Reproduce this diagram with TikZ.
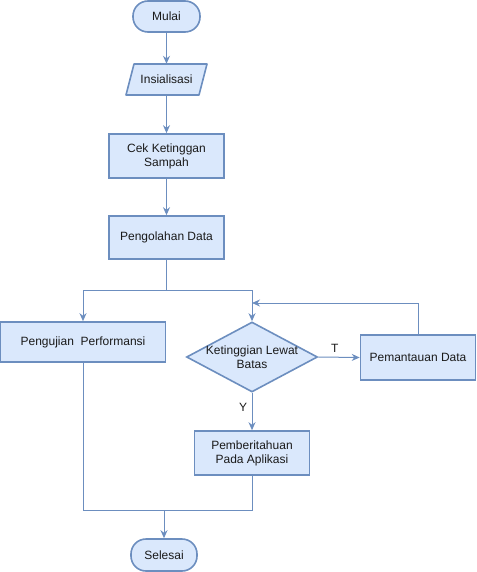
\documentclass[tikz,border=0pt]{standalone}
\usepackage{fontspec}
\setmainfont{Liberation Sans}
\usetikzlibrary{shapes.geometric,arrows.meta}
\definecolor{boxfill}{HTML}{DAE8FC}
\definecolor{boxline}{HTML}{6C8EBF}
\definecolor{txtcol}{HTML}{1A1A1A}
\tikzset{
  every node/.style={font=\fontsize{12pt}{14pt}\selectfont, text=txtcol, align=center},
  procbox/.style={draw=boxline, fill=boxfill, line width=1.6pt, rectangle, inner sep=0pt},
  termbox/.style={draw=boxline, fill=boxfill, line width=1.6pt, rectangle, rounded corners=15pt, inner sep=0pt},
  decbox/.style={draw=boxline, fill=boxfill, line width=1.6pt, diamond, inner sep=0pt},
  conn/.style={draw=boxline, line width=1pt},
  arr/.style={conn, -{Stealth[length=8pt,width=7pt]}},
  lbl/.style={font=\fontsize{12pt}{14pt}\selectfont}
}
\begin{document}
\begin{tikzpicture}[x=1pt,y=-1pt]
\useasboundingbox (0,0) rectangle (476,572);
% shapes
\node[termbox, minimum width=67pt, minimum height=31pt] (mulai) at (166.5,16.5) {Mulai};
\draw[draw=boxline, fill=boxfill, line width=1.6pt, line join=round] (134,64) -- (207,64) -- (199,95) -- (126,95) -- cycle;
\node[rectangle, minimum width=73pt, minimum height=31pt, inner sep=0pt] (init) at (166.5,79.5) {Insialisasi};
\node[procbox, minimum width=115pt, minimum height=44pt] (cek) at (166.5,156) {Cek Ketinggan\\Sampah};
\node[procbox, minimum width=115pt, minimum height=43pt] (olah) at (166.5,237.5) {Pengolahan Data};
\node[procbox, minimum width=165pt, minimum height=40pt] (uji) at (83,342) {Pengujian\ \ Performansi};
\node[decbox, minimum width=131pt, minimum height=70pt] (dec) at (252,357) {};
\node at (dec) {Ketinggian Lewat\\Batas};
\node[procbox, minimum width=115pt, minimum height=45pt] (pem) at (418,357.5) {Pemantauan Data};
\node[procbox, minimum width=115pt, minimum height=44pt] (notif) at (252,453) {Pemberitahuan\\Pada Aplikasi};
\node[termbox, minimum width=66pt, minimum height=32pt] (sel) at (164,555) {Selesai};
% coordinates
\coordinate (j1) at (166.5,290);
\coordinate (fb) at (252,303);
\coordinate (j2) at (164,510);
% connectors
\draw[arr] (mulai) -- (init);
\draw[arr] (init) -- (cek);
\draw[arr] (cek) -- (olah);
\draw[conn] (olah) -- (j1);
\draw[arr] (j1) -| (uji.north);
\draw[arr] (j1) -| (dec.north);
\draw[arr] (dec.east) -- node[lbl, above, pos=0.4, yshift=1pt] {T} (pem.west);
\draw[arr] (pem.north) |- (fb);
\draw[arr] (dec.south) -- node[lbl, left, pos=0.38, xshift=-1pt] {Y} (notif.north);
\draw[conn] (uji.south) |- (notif.south |- j2) -- (notif.south);
\draw[arr] (j2) -- (sel.north);
\end{tikzpicture}
\end{document}
